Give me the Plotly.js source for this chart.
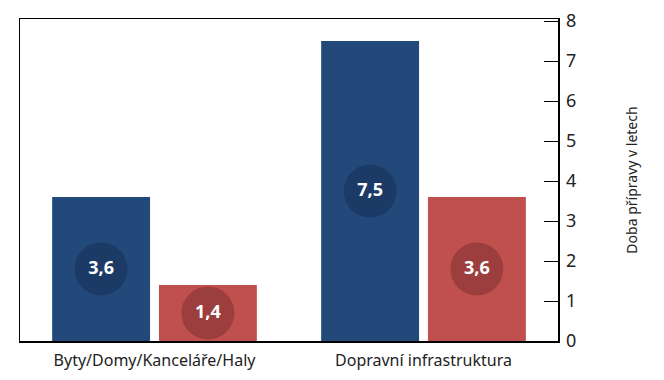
<!DOCTYPE html>
<html>
<head>
<meta charset="utf-8">
<script src="https://cdn.plot.ly/plotly-3.0.1.min.js"></script>
<style>
  html, body { margin: 0; padding: 0; background: #fff; }
  #chart { width: 664px; height: 380px; }
</style>
</head>
<body>
<div id="chart"></div>
<script>
const categories = ["Byty/Domy/Kanceláře/Haly", "Dopravní infrastruktura"];
const seriesBlue = [3.6, 7.5];
const seriesRed = [1.4, 3.6];
const labelsBlue = ["3,6", "7,5"];
const labelsRed = ["1,4", "3,6"];
const yTicks = [0, 1, 2, 3, 4, 5, 6, 7, 8];
const yTitle = "Doba přípravy v letech";

const BLUE = "#23497b", BLUE_DARK = "#1c3a66";
const RED = "#c0504d", RED_DARK = "#9b3e3d";
const slot = 0.397;      // distance between category centre and bar centre (x units)
const barW = 0.364;      // bar width (x units)
const idx = categories.map((_, i) => i);
const xBlue = idx.map(i => i - slot / 2);
const xRed = idx.map(i => i + slot / 2);
const FONT = "'Noto Sans', 'Open Sans', sans-serif";

const traces = [
  { type: "bar", x: xBlue, y: seriesBlue, width: barW, marker: { color: BLUE }, hoverinfo: "skip" },
  { type: "bar", x: xRed, y: seriesRed, width: barW, marker: { color: RED }, hoverinfo: "skip" },
  { type: "scatter", mode: "markers+text", x: xBlue, y: seriesBlue.map(v => v / 2),
    text: labelsBlue, textposition: "middle center",
    textfont: { family: "'Open Sans', sans-serif", size: 18, color: "#ffffff", weight: 700 },
    marker: { size: 53, color: BLUE_DARK, line: { width: 0 } }, hoverinfo: "skip" },
  { type: "scatter", mode: "markers+text", x: xRed, y: seriesRed.map(v => v / 2),
    text: labelsRed, textposition: "middle center",
    textfont: { family: "'Open Sans', sans-serif", size: 18, color: "#ffffff", weight: 700 },
    marker: { size: 53, color: RED_DARK, line: { width: 0 } }, hoverinfo: "skip" }
];

const layout = {
  width: 664, height: 380,
  margin: { l: 20, r: 106, t: 19, b: 39 },
  paper_bgcolor: "#ffffff", plot_bgcolor: "#ffffff",
  showlegend: false,
  barmode: "overlay",
  font: { family: FONT, color: "#222222" },
  xaxis: {
    range: [-0.5, 1.5], tickvals: idx, ticktext: categories,
    ticks: "", showgrid: false, zeroline: false,
    showline: true, mirror: true, linecolor: "#000000", linewidth: 1.5,
    ticklabelstandoff: 4,
    tickfont: { family: FONT, size: 16, color: "#222222" }
  },
  xaxis2: {
    overlaying: "x", anchor: "y", side: "bottom",
    range: [-0.5, 1.5], tickvals: [0.5], ticks: "inside", ticklen: 8,
    tickcolor: "#000000", tickwidth: 1, showticklabels: false,
    showgrid: false, zeroline: false, showline: false
  },
  yaxis: {
    side: "right", range: [0, 8.05], tickvals: yTicks, ticktext: yTicks.map(String),
    ticks: "inside", ticklen: 14, tickcolor: "#000000", tickwidth: 1,
    showgrid: false, zeroline: false,
    showline: true, mirror: true, linecolor: "#000000", linewidth: 1.5,
    ticklabelstandoff: 3,
    tickfont: { family: FONT, size: 18, color: "#222222" },
    title: { text: yTitle, standoff: 52, font: { family: FONT, size: 14, color: "#222222" } }
  }
};

Plotly.newPlot("chart", traces, layout, { staticPlot: true, displayModeBar: false });
</script>
</body>
</html>
